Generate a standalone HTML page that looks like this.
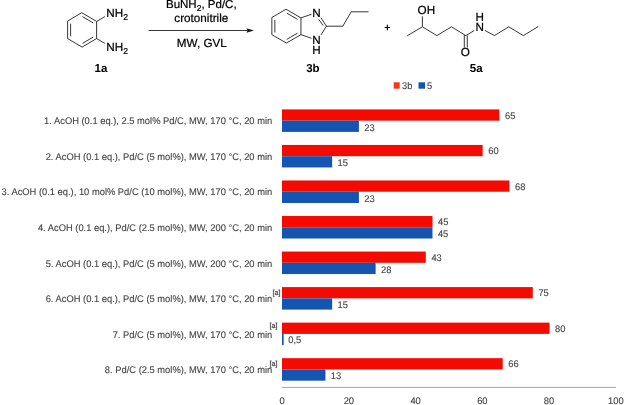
<!DOCTYPE html>
<html lang="en"><head><meta charset="utf-8"><title>Reaction scheme and yields</title>
<style>
html,body{margin:0;padding:0;background:#fff;}
body{width:625px;height:405px;overflow:hidden;font-family:"Liberation Sans",Arial,Helvetica,sans-serif;}
svg text{white-space:pre;text-rendering:geometricPrecision;}
</style></head><body>
<svg width="625" height="405" viewBox="0 0 625 405" style="display:block">
<path d="M82.10 12.90 L96.60 21.45 L96.60 38.55 L82.10 47.10 L67.60 38.55 L67.60 21.45 Z" fill="none" stroke="#141414" stroke-width="0.85" stroke-linejoin="round" stroke-linecap="round"/>
<line x1="82.46" y1="16.60" x2="93.19" y2="22.92" stroke="#141414" stroke-width="0.85" stroke-linecap="butt"/>
<line x1="93.19" y1="37.08" x2="82.46" y2="43.40" stroke="#141414" stroke-width="0.85" stroke-linecap="butt"/>
<line x1="70.60" y1="36.33" x2="70.60" y2="23.67" stroke="#141414" stroke-width="0.85" stroke-linecap="butt"/>
<line x1="96.60" y1="21.45" x2="104.90" y2="16.60" stroke="#141414" stroke-width="0.85" stroke-linecap="butt"/>
<line x1="96.60" y1="38.55" x2="104.90" y2="43.40" stroke="#141414" stroke-width="0.85" stroke-linecap="butt"/>
<text x="106.30" y="17.00" font-family="Liberation Sans, Arial, Helvetica, sans-serif" font-size="11.70" text-anchor="start" fill="#000" stroke="#000" stroke-width="0.22">NH<tspan dy="3.2" font-size="8.6">2</tspan></text>
<text x="106.30" y="51.00" font-family="Liberation Sans, Arial, Helvetica, sans-serif" font-size="11.70" text-anchor="start" fill="#000" stroke="#000" stroke-width="0.22">NH<tspan dy="3.2" font-size="8.6">2</tspan></text>
<text x="100.90" y="72.10" font-family="Liberation Sans, Arial, Helvetica, sans-serif" font-size="11.50" text-anchor="middle" font-weight="bold" fill="#000">1a</text>
<line x1="148.60" y1="30.50" x2="249.00" y2="30.50" stroke="#141414" stroke-width="0.85" stroke-linecap="butt"/>
<path d="M254 30.5 L246.4 28.2 L247.8 30.5 L246.4 32.8 Z" fill="#141414"/>
<text x="201.30" y="8.00" font-family="Liberation Sans, Arial, Helvetica, sans-serif" font-size="11.50" text-anchor="middle" fill="#000" stroke="#000" stroke-width="0.22">BuNH<tspan dy="3.2" font-size="8.6">2</tspan><tspan dy="-3.2">, Pd/C,</tspan></text>
<text x="201.30" y="21.70" font-family="Liberation Sans, Arial, Helvetica, sans-serif" font-size="11.70" text-anchor="middle" fill="#000" stroke="#000" stroke-width="0.22">crotonitrile</text>
<text x="201.80" y="46.90" font-family="Liberation Sans, Arial, Helvetica, sans-serif" font-size="11.70" text-anchor="middle" fill="#000" stroke="#000" stroke-width="0.22">MW, GVL</text>
<path d="M286.40 9.45 L300.95 17.85 L300.95 34.65 L286.40 43.05 L271.85 34.65 L271.85 17.85 Z" fill="none" stroke="#141414" stroke-width="0.85" stroke-linejoin="round" stroke-linecap="round"/>
<line x1="286.79" y1="13.14" x2="297.56" y2="19.36" stroke="#141414" stroke-width="0.85" stroke-linecap="butt"/>
<line x1="297.56" y1="33.14" x2="286.79" y2="39.36" stroke="#141414" stroke-width="0.85" stroke-linecap="butt"/>
<line x1="274.85" y1="32.47" x2="274.85" y2="20.03" stroke="#141414" stroke-width="0.85" stroke-linecap="butt"/>
<line x1="300.95" y1="17.85" x2="311.50" y2="14.30" stroke="#141414" stroke-width="0.85" stroke-linecap="butt"/>
<line x1="300.95" y1="34.65" x2="311.50" y2="38.30" stroke="#141414" stroke-width="0.85" stroke-linecap="butt"/>
<line x1="320.90" y1="17.60" x2="326.40" y2="26.20" stroke="#141414" stroke-width="0.85" stroke-linecap="butt"/>
<line x1="318.70" y1="19.40" x2="323.20" y2="25.60" stroke="#141414" stroke-width="0.85" stroke-linecap="butt"/>
<line x1="326.40" y1="26.20" x2="321.00" y2="34.90" stroke="#141414" stroke-width="0.85" stroke-linecap="butt"/>
<path d="M326.40 26.20 L342.80 26.20 L351.20 11.80 L368.20 11.80" fill="none" stroke="#141414" stroke-width="0.85" stroke-linejoin="round" stroke-linecap="round"/>
<text x="316.60" y="16.80" font-family="Liberation Sans, Arial, Helvetica, sans-serif" font-size="11.70" text-anchor="middle" fill="#000" stroke="#000" stroke-width="0.22">N</text>
<text x="316.60" y="43.90" font-family="Liberation Sans, Arial, Helvetica, sans-serif" font-size="11.70" text-anchor="middle" fill="#000" stroke="#000" stroke-width="0.22">N</text>
<text x="316.60" y="54.00" font-family="Liberation Sans, Arial, Helvetica, sans-serif" font-size="11.70" text-anchor="middle" fill="#000" stroke="#000" stroke-width="0.22">H</text>
<text x="312.90" y="71.80" font-family="Liberation Sans, Arial, Helvetica, sans-serif" font-size="11.50" text-anchor="middle" font-weight="bold" fill="#000">3b</text>
<text x="387.2" y="31.3" font-family="Liberation Sans, Arial, Helvetica, sans-serif" font-size="10.5" font-weight="bold" text-anchor="middle" fill="#000">+</text>
<path d="M407.50 35.60 L422.40 26.80 L436.90 35.60 L451.50 26.80 L465.80 35.60" fill="none" stroke="#141414" stroke-width="0.85" stroke-linejoin="round" stroke-linecap="round"/>
<line x1="422.40" y1="26.80" x2="422.40" y2="16.30" stroke="#141414" stroke-width="0.85" stroke-linecap="butt"/>
<text x="417.60" y="14.00" font-family="Liberation Sans, Arial, Helvetica, sans-serif" font-size="11.70" text-anchor="start" fill="#000" stroke="#000" stroke-width="0.22">OH</text>
<line x1="464.30" y1="35.00" x2="464.30" y2="47.60" stroke="#141414" stroke-width="0.85" stroke-linecap="butt"/>
<line x1="467.30" y1="35.60" x2="467.30" y2="47.60" stroke="#141414" stroke-width="0.85" stroke-linecap="butt"/>
<text x="465.40" y="56.20" font-family="Liberation Sans, Arial, Helvetica, sans-serif" font-size="11.70" text-anchor="middle" fill="#000" stroke="#000" stroke-width="0.22">O</text>
<line x1="465.80" y1="35.60" x2="474.20" y2="30.60" stroke="#141414" stroke-width="0.85" stroke-linecap="butt"/>
<text x="479.80" y="31.10" font-family="Liberation Sans, Arial, Helvetica, sans-serif" font-size="11.70" text-anchor="middle" fill="#000" stroke="#000" stroke-width="0.22">N</text>
<text x="479.80" y="20.70" font-family="Liberation Sans, Arial, Helvetica, sans-serif" font-size="11.70" text-anchor="middle" fill="#000" stroke="#000" stroke-width="0.22">H</text>
<path d="M485.20 30.60 L494.40 35.60 L508.80 26.80 L523.40 35.60 L537.80 26.80" fill="none" stroke="#141414" stroke-width="0.85" stroke-linejoin="round" stroke-linecap="round"/>
<text x="476.20" y="71.80" font-family="Liberation Sans, Arial, Helvetica, sans-serif" font-size="11.50" text-anchor="middle" font-weight="bold" fill="#000">5a</text>
<rect x="393.7" y="82.3" width="6" height="6.4" fill="#F03A14"/>
<text transform="translate(402.00 88.80) scale(0.974 1)" font-family="Liberation Sans, Arial, Helvetica, sans-serif" font-size="9.60" text-anchor="start" fill="#454545" stroke="#454545" stroke-width="0.12">3b</text>
<rect x="418.5" y="82.3" width="6.6" height="6.4" fill="#1455B2"/>
<text transform="translate(427.00 88.80) scale(0.974 1)" font-family="Liberation Sans, Arial, Helvetica, sans-serif" font-size="9.60" text-anchor="start" fill="#454545" stroke="#454545" stroke-width="0.12">5</text>
<rect x="282.00" y="109.40" width="217.36" height="11.25" fill="#F50A00"/>
<rect x="282.00" y="120.65" width="76.91" height="11.25" fill="#1455B2"/>
<text transform="translate(272.20 124.35) scale(0.974 1)" font-family="Liberation Sans, Arial, Helvetica, sans-serif" font-size="9.60" text-anchor="end" fill="#454545" stroke="#454545" stroke-width="0.12">1. AcOH (0.1 eq.), 2.5 mol% Pd/C, MW, 170 °C, 20 min</text>
<text transform="translate(504.96 118.62) scale(0.974 1)" font-family="Liberation Sans, Arial, Helvetica, sans-serif" font-size="9.60" text-anchor="start" fill="#454545" stroke="#454545" stroke-width="0.12">65</text>
<text transform="translate(364.31 130.58) scale(0.974 1)" font-family="Liberation Sans, Arial, Helvetica, sans-serif" font-size="9.60" text-anchor="start" fill="#454545" stroke="#454545" stroke-width="0.12">23</text>
<rect x="282.00" y="144.94" width="200.64" height="11.25" fill="#F50A00"/>
<rect x="282.00" y="156.19" width="50.16" height="11.25" fill="#1455B2"/>
<text transform="translate(272.20 159.89) scale(0.974 1)" font-family="Liberation Sans, Arial, Helvetica, sans-serif" font-size="9.60" text-anchor="end" fill="#454545" stroke="#454545" stroke-width="0.12">2. AcOH (0.1 eq.), Pd/C (5 mol%), MW, 170 °C, 20 min</text>
<text transform="translate(488.24 154.16) scale(0.974 1)" font-family="Liberation Sans, Arial, Helvetica, sans-serif" font-size="9.60" text-anchor="start" fill="#454545" stroke="#454545" stroke-width="0.12">60</text>
<text transform="translate(337.56 166.12) scale(0.974 1)" font-family="Liberation Sans, Arial, Helvetica, sans-serif" font-size="9.60" text-anchor="start" fill="#454545" stroke="#454545" stroke-width="0.12">15</text>
<rect x="282.00" y="180.48" width="227.39" height="11.25" fill="#F50A00"/>
<rect x="282.00" y="191.73" width="76.91" height="11.25" fill="#1455B2"/>
<text transform="translate(272.20 195.43) scale(0.974 1)" font-family="Liberation Sans, Arial, Helvetica, sans-serif" font-size="9.60" text-anchor="end" fill="#454545" stroke="#454545" stroke-width="0.12">3. AcOH (0.1 eq.), 10 mol% Pd/C (10 mol%), MW, 170 °C, 20 min</text>
<text transform="translate(514.99 189.71) scale(0.974 1)" font-family="Liberation Sans, Arial, Helvetica, sans-serif" font-size="9.60" text-anchor="start" fill="#454545" stroke="#454545" stroke-width="0.12">68</text>
<text transform="translate(364.31 201.66) scale(0.974 1)" font-family="Liberation Sans, Arial, Helvetica, sans-serif" font-size="9.60" text-anchor="start" fill="#454545" stroke="#454545" stroke-width="0.12">23</text>
<rect x="282.00" y="216.02" width="150.48" height="11.25" fill="#F50A00"/>
<rect x="282.00" y="227.27" width="150.48" height="11.25" fill="#1455B2"/>
<text transform="translate(272.20 230.97) scale(0.974 1)" font-family="Liberation Sans, Arial, Helvetica, sans-serif" font-size="9.60" text-anchor="end" fill="#454545" stroke="#454545" stroke-width="0.12">4. AcOH (0.1 eq.), Pd/C (2.5 mol%), MW, 200 °C, 20 min</text>
<text transform="translate(438.08 225.25) scale(0.974 1)" font-family="Liberation Sans, Arial, Helvetica, sans-serif" font-size="9.60" text-anchor="start" fill="#454545" stroke="#454545" stroke-width="0.12">45</text>
<text transform="translate(437.88 237.20) scale(0.974 1)" font-family="Liberation Sans, Arial, Helvetica, sans-serif" font-size="9.60" text-anchor="start" fill="#454545" stroke="#454545" stroke-width="0.12">45</text>
<rect x="282.00" y="251.56" width="143.79" height="11.25" fill="#F50A00"/>
<rect x="282.00" y="262.81" width="93.63" height="11.25" fill="#1455B2"/>
<text transform="translate(272.20 266.51) scale(0.974 1)" font-family="Liberation Sans, Arial, Helvetica, sans-serif" font-size="9.60" text-anchor="end" fill="#454545" stroke="#454545" stroke-width="0.12">5. AcOH (0.1 eq.), Pd/C (5 mol%), MW, 200 °C, 20 min</text>
<text transform="translate(431.39 260.79) scale(0.974 1)" font-family="Liberation Sans, Arial, Helvetica, sans-serif" font-size="9.60" text-anchor="start" fill="#454545" stroke="#454545" stroke-width="0.12">43</text>
<text transform="translate(381.03 272.74) scale(0.974 1)" font-family="Liberation Sans, Arial, Helvetica, sans-serif" font-size="9.60" text-anchor="start" fill="#454545" stroke="#454545" stroke-width="0.12">28</text>
<rect x="282.00" y="287.10" width="250.80" height="11.25" fill="#F50A00"/>
<rect x="282.00" y="298.35" width="50.16" height="11.25" fill="#1455B2"/>
<text transform="translate(272.20 302.05) scale(0.974 1)" font-family="Liberation Sans, Arial, Helvetica, sans-serif" font-size="9.60" text-anchor="end" fill="#454545" stroke="#454545" stroke-width="0.12">6. AcOH (0.1 eq.), Pd/C (5 mol%), MW, 170 °C, 20 min</text>
<text transform="translate(538.40 296.33) scale(0.974 1)" font-family="Liberation Sans, Arial, Helvetica, sans-serif" font-size="9.60" text-anchor="start" fill="#454545" stroke="#454545" stroke-width="0.12">75</text>
<text transform="translate(337.56 308.28) scale(0.974 1)" font-family="Liberation Sans, Arial, Helvetica, sans-serif" font-size="9.60" text-anchor="start" fill="#454545" stroke="#454545" stroke-width="0.12">15</text>
<text transform="translate(272.60 295.00) scale(0.974 1)" font-family="Liberation Sans, Arial, Helvetica, sans-serif" font-size="7.39" fill="#444" stroke="#444" stroke-width="0.25">[a]</text>
<rect x="282.00" y="322.64" width="267.52" height="11.25" fill="#F50A00"/>
<rect x="282.00" y="333.89" width="1.67" height="11.25" fill="#1455B2"/>
<text transform="translate(272.20 337.59) scale(0.974 1)" font-family="Liberation Sans, Arial, Helvetica, sans-serif" font-size="9.60" text-anchor="end" fill="#454545" stroke="#454545" stroke-width="0.12">7. Pd/C (5 mol%), MW, 170 °C, 20 min</text>
<text transform="translate(555.12 331.87) scale(0.974 1)" font-family="Liberation Sans, Arial, Helvetica, sans-serif" font-size="9.60" text-anchor="start" fill="#454545" stroke="#454545" stroke-width="0.12">80</text>
<text transform="translate(288.27 343.41) scale(0.974 1)" font-family="Liberation Sans, Arial, Helvetica, sans-serif" font-size="9.60" text-anchor="start" fill="#454545" stroke="#454545" stroke-width="0.12">0,5</text>
<text transform="translate(269.60 328.10) scale(0.974 1)" font-family="Liberation Sans, Arial, Helvetica, sans-serif" font-size="7.39" fill="#444" stroke="#444" stroke-width="0.25">[a]</text>
<rect x="282.00" y="358.18" width="220.70" height="11.25" fill="#F50A00"/>
<rect x="282.00" y="369.43" width="43.47" height="11.25" fill="#1455B2"/>
<text transform="translate(272.20 373.13) scale(0.974 1)" font-family="Liberation Sans, Arial, Helvetica, sans-serif" font-size="9.60" text-anchor="end" fill="#454545" stroke="#454545" stroke-width="0.12">8. Pd/C (2.5 mol%), MW, 170 °C, 20 min</text>
<text transform="translate(508.30 367.41) scale(0.974 1)" font-family="Liberation Sans, Arial, Helvetica, sans-serif" font-size="9.60" text-anchor="start" fill="#454545" stroke="#454545" stroke-width="0.12">66</text>
<text transform="translate(330.87 379.36) scale(0.974 1)" font-family="Liberation Sans, Arial, Helvetica, sans-serif" font-size="9.60" text-anchor="start" fill="#454545" stroke="#454545" stroke-width="0.12">13</text>
<text transform="translate(269.40 366.30) scale(0.974 1)" font-family="Liberation Sans, Arial, Helvetica, sans-serif" font-size="7.39" fill="#444" stroke="#444" stroke-width="0.25">[a]</text>
<line x1="282" y1="387.4" x2="616" y2="387.4" stroke="#8FA9DB" stroke-width="1"/>
<text transform="translate(282.10 404.20) scale(0.974 1)" font-family="Liberation Sans, Arial, Helvetica, sans-serif" font-size="9.60" text-anchor="middle" fill="#454545" stroke="#454545" stroke-width="0.12">0</text>
<text transform="translate(348.84 404.20) scale(0.974 1)" font-family="Liberation Sans, Arial, Helvetica, sans-serif" font-size="9.60" text-anchor="middle" fill="#454545" stroke="#454545" stroke-width="0.12">20</text>
<text transform="translate(415.58 404.20) scale(0.974 1)" font-family="Liberation Sans, Arial, Helvetica, sans-serif" font-size="9.60" text-anchor="middle" fill="#454545" stroke="#454545" stroke-width="0.12">40</text>
<text transform="translate(482.32 404.20) scale(0.974 1)" font-family="Liberation Sans, Arial, Helvetica, sans-serif" font-size="9.60" text-anchor="middle" fill="#454545" stroke="#454545" stroke-width="0.12">60</text>
<text transform="translate(549.06 404.20) scale(0.974 1)" font-family="Liberation Sans, Arial, Helvetica, sans-serif" font-size="9.60" text-anchor="middle" fill="#454545" stroke="#454545" stroke-width="0.12">80</text>
<text transform="translate(615.80 404.20) scale(0.974 1)" font-family="Liberation Sans, Arial, Helvetica, sans-serif" font-size="9.60" text-anchor="middle" fill="#454545" stroke="#454545" stroke-width="0.12">100</text>
</svg>
</body></html>
